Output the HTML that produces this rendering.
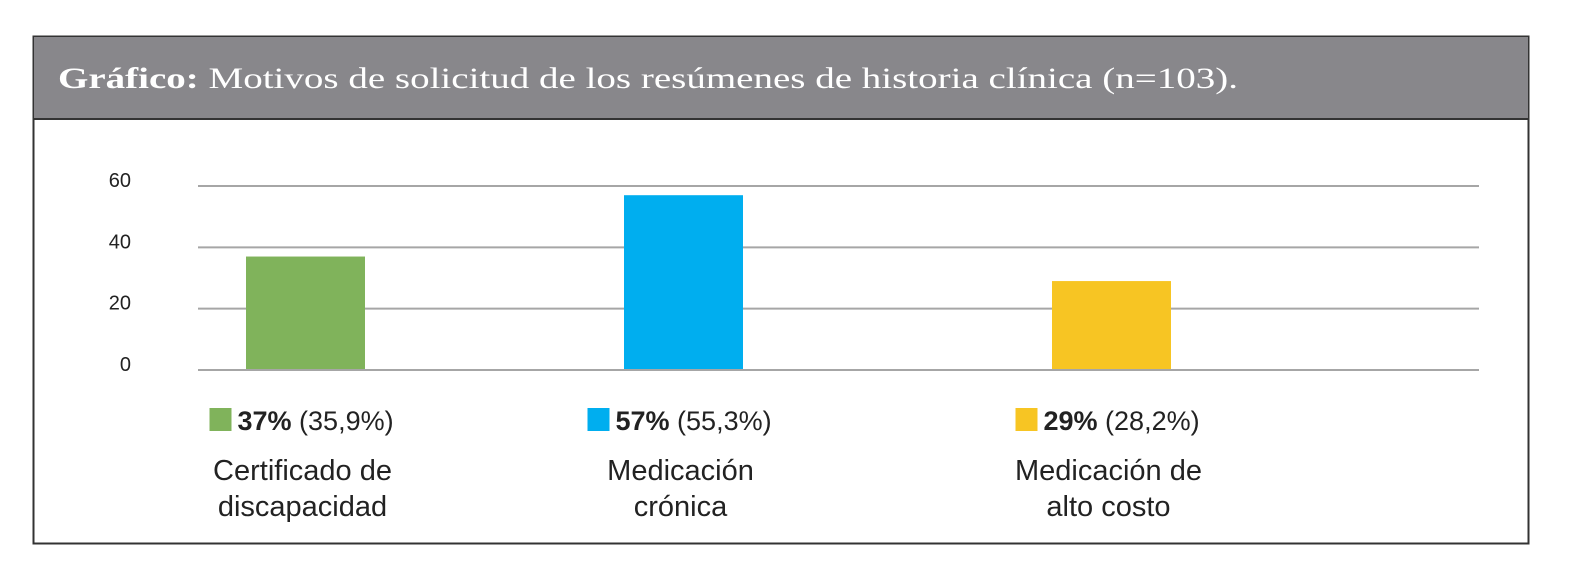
<!DOCTYPE html>
<html><head><meta charset="utf-8"><style>
html,body{margin:0;padding:0;background:#fff;width:1572px;height:582px;overflow:hidden}
svg{display:block}
</style></head><body>
<svg id="chart" width="1572" height="582" xmlns="http://www.w3.org/2000/svg">
<rect x="33.5" y="36.5" width="1495" height="507" fill="#fff" stroke="#333" stroke-width="2"/>
<rect x="34" y="37" width="1494" height="82" fill="#88878b"/>
<line x1="34" y1="119" x2="1528" y2="119" stroke="#333" stroke-width="2"/>
<text x="58" y="88" font-family="Liberation Serif, serif" font-size="30" fill="#fff" textLength="1180" lengthAdjust="spacingAndGlyphs"><tspan font-weight="bold">Gráfico:</tspan> Motivos de solicitud de los resúmenes de historia clínica (n=103).</text>
<g id="grid"></g><g id="bars"></g><g id="legend"></g>
</svg>
<script>
const categories = [["Certificado de","discapacidad"],["Medicación","crónica"],["Medicación de","alto costo"]];
const values = [37, 57, 29];
const percents = ["37%", "57%", "29%"];
const shares = ["(35,9%)", "(55,3%)", "(28,2%)"];
const ticks = [0, 20, 40, 60];
const colors = ["#80b35b", "#00aeef", "#f7c523"];
const NS = "http://www.w3.org/2000/svg";
const y = v => 370 - v * 184 / 60;
const centers = [305.5, 683.5, 1111.5];
const grid = document.getElementById('grid'), bars = document.getElementById('bars'), legend = document.getElementById('legend');
function mk(tag, attrs, parent){const e=document.createElementNS(NS,tag);for(const k in attrs)e.setAttribute(k,attrs[k]);parent.appendChild(e);return e;}
ticks.forEach(t=>{
  const l = mk('line',{x1:198,x2:1479,y1:y(t),y2:y(t),stroke:'#a6a6a6','stroke-width':2},grid);
  
  
  const tx = mk('text',{x:131,y:y(t)+1,'text-anchor':'end','font-family':'Liberation Sans, sans-serif','font-size':20,fill:'#222'},grid);
  tx.textContent = t;
  
  
});
values.forEach((v,i)=>{
  const c = centers[i];
  const r = mk('rect',{x:c-59.5,y:y(v),width:119,height:370-y(v)-1,fill:colors[i]},bars);
  
  
  const sq = mk('rect',{x:c-96,y:408,width:22,height:23,fill:colors[i]},legend);
  
  
  const t = mk('text',{x:c-68,y:430,'font-family':'Liberation Sans Narrow, Liberation Sans, sans-serif','font-size':27,fill:'#222'},legend);
  t.innerHTML = '<tspan font-weight="bold">'+percents[i]+'</tspan> '+shares[i];
  
  
  categories[i].forEach((line,j)=>{
    const ct = mk('text',{x:c-3,y:480+j*36,'text-anchor':'middle','font-family':'Liberation Sans Narrow, Liberation Sans, sans-serif','font-size':29,fill:'#222'},legend);
    ct.textContent = line;
    
    
  });
});
</script>
</body></html>
